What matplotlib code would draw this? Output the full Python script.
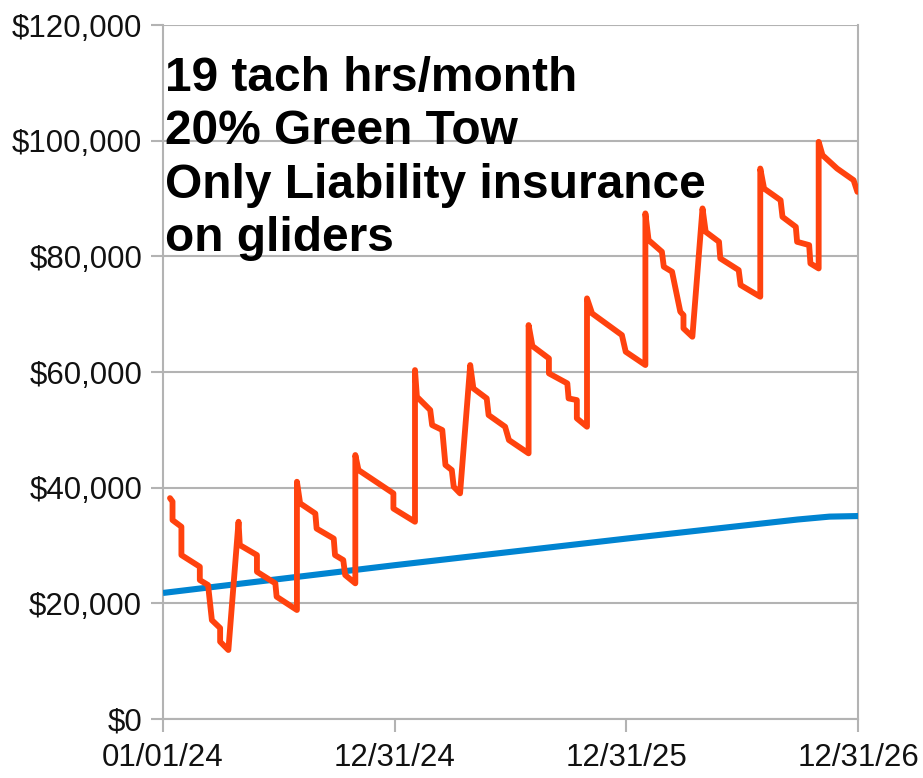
import matplotlib
matplotlib.use('Agg')
import matplotlib.pyplot as plt
import matplotlib.dates as mdates
import pandas as pd

# red series: days after 01/01/24 and value
red_days = [11, 15, 15, 29, 29, 58, 58, 71, 77, 90, 90, 103,
            119, 121, 148, 148, 177, 179, 211,
            211, 216, 240, 242, 269, 271, 284, 287, 303,
            303, 308, 363, 363, 397,
            397, 400, 421, 424, 440, 445, 455, 458, 468,
            484, 489, 510, 513, 539, 545, 576,
            576, 582, 608, 608, 637, 639, 652, 652, 668,
            668, 676, 723, 729, 760,
            760, 765, 786, 789, 802, 815, 820, 820, 834,
            850, 855, 876, 878, 907, 910, 941,
            941, 947, 973, 976, 997, 999, 1018, 1020, 1033,
            1033, 1039, 1062, 1088, 1094]
red_vals = [38200, 37600, 34400, 33250, 28350, 26330, 24030, 23170, 17100, 15730, 13370, 11930,
            34110, 30080, 28350, 25470, 23460, 21150, 18850,
            41030, 37300, 35530, 32930, 31200, 28350, 27490, 24900, 23460,
            45650, 43050, 39020, 36400, 34110,
            60340, 55730, 53430, 50830, 49970, 43920, 43050, 40170, 39020,
            61210, 57170, 55440, 52560, 50540, 48240, 45940,
            68120, 64500, 62360, 59770, 58040, 55440, 55150, 51990, 50540,
            72740, 70140, 66390, 63510, 61210,
            87430, 82820, 80800, 78210, 77350, 70430, 69850, 67550, 66100,
            88290, 84250, 82520, 79650, 77630, 75040, 73020,
            95190, 91730, 89710, 86830, 85100, 82520, 81950, 78780, 77910,
            99810, 97510, 95190, 93180, 91160]

# blue series
blue_days = [0, 365, 730, 1000, 1050, 1096]
blue_vals = [21800, 26600, 31200, 34500, 35000, 35100]

yticks = [0, 20000, 40000, 60000, 80000, 100000, 120000]
xtick_dates = ['2024-01-01', '2024-12-31', '2025-12-31', '2026-12-31']
note = '19 tach hrs/month\n20% Green Tow\nOnly Liability insurance\non gliders'

start = pd.Timestamp('2024-01-01')
red_x = start + pd.to_timedelta(red_days, unit='D')
blue_x = start + pd.to_timedelta(blue_days, unit='D')

fig = plt.figure(figsize=(9.23, 7.78), dpi=100)
ax = fig.add_axes([0.1766, 0.0758, 0.7530, 0.8920])

grid_c = '#b3b3b3'
ax.plot(blue_x, blue_vals, color='#0084d1', linewidth=4.4, solid_capstyle='butt', zorder=3)
ax.plot(red_x, red_vals, color='#ff420e', linewidth=4.2, solid_joinstyle='round',
        solid_capstyle='round', zorder=4)

ax.set_ylim(0, 120000)
ax.set_xlim(pd.Timestamp(xtick_dates[0]), pd.Timestamp(xtick_dates[-1]))
ax.set_yticks(yticks)
ax.set_yticklabels(['${:,}'.format(v) for v in yticks], fontsize=22.5,
                   family='Liberation Sans', color='#111111')
ax.set_xticks([pd.Timestamp(d) for d in xtick_dates])
ax.xaxis.set_major_formatter(mdates.DateFormatter('%m/%d/%y'))
for lab in ax.get_xticklabels():
    lab.set_fontsize(22.5)
    lab.set_family('Liberation Sans')
    lab.set_color('#111111')

ax.grid(axis='y', color=grid_c, linewidth=1.5, zorder=0)
ax.tick_params(axis='both', length=9, width=1.5, color=grid_c)
ax.tick_params(axis='y', pad=6)
ax.tick_params(axis='x', pad=8)
for s in ['left', 'right', 'bottom']:
    ax.spines[s].set_color(grid_c)
    ax.spines[s].set_linewidth(1.5)
ax.spines['top'].set_visible(False)

fig.text(0.1788, 0.928, note, fontsize=34.5, fontweight='bold', family='Liberation Sans',
         va='top', ha='left', linespacing=1.24)

plt.savefig('out.png', dpi=100)
